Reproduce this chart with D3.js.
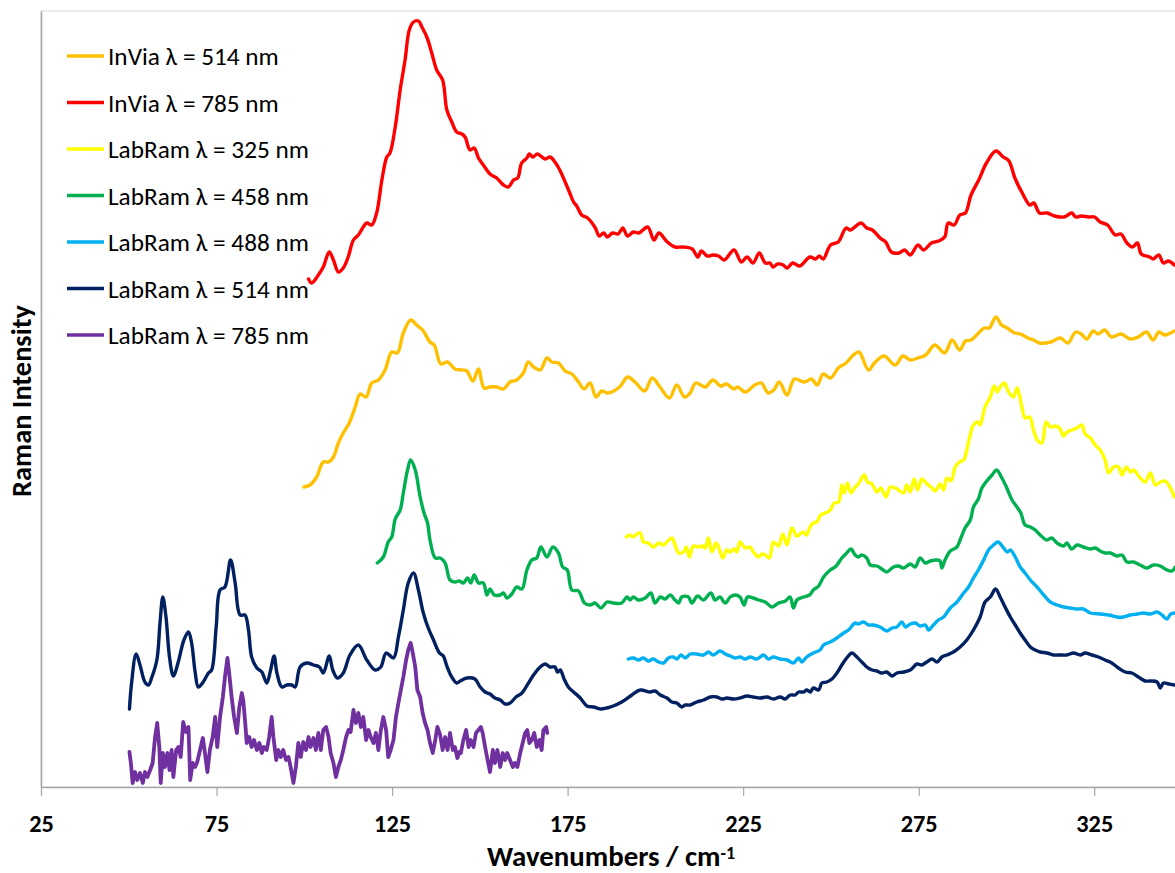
<!DOCTYPE html>
<html>
<head>
<meta charset="utf-8">
<script src="https://cdn.jsdelivr.net/npm/d3@7"></script>
<style>
  body { margin: 0; background: #ffffff; }
  svg { display: block; }
  text { font-family: Carlito, "Open Sans", Lato, sans-serif; }
</style>
</head>
<body>
<svg id="chart" width="1175" height="873"></svg>
<script>
// ---------------- DATA (wavenumber cm-1, Raman intensity a.u.) ----------------
const xTickValues = [25, 75, 125, 175, 225, 275, 325];
const xDomain = [25, 350];
const yDomain = [0, 776];

const seriesNames = [
  "InVia \u03bb = 514 nm",
  "InVia \u03bb = 785 nm",
  "LabRam \u03bb = 325 nm",
  "LabRam \u03bb = 458 nm",
  "LabRam \u03bb = 488 nm",
  "LabRam \u03bb = 514 nm",
  "LabRam \u03bb = 785 nm"
];
const seriesColors = ["#FFC000", "#FF0000", "#FFFF00", "#00B050", "#00B0F0", "#002060", "#7030A0"];

const invia514 = [[99.9,300],[101.6,302],[103.5,310],[105.4,325],[106.9,325],[108.3,330],[109.7,344],[111.1,354],[112.8,364],[114.5,380],[115.9,393],[117.6,390],[119.2,404],[121.1,407],[123.0,417],[124.9,435],[126.5,434],[128.2,454],[130.3,467],[132.0,462],[133.7,457],[135.8,445],[137.0,442],[138.9,423],[140.8,425],[142.9,418],[144.9,417],[146.3,416],[148.0,406],[149.6,418],[151.2,399],[152.9,400],[154.8,400],[156.7,398],[158.6,405],[160.5,407],[162.4,414],[163.8,425],[165.3,420],[167.2,417],[169.1,429],[170.5,425],[172.4,424],[174.3,416],[176.2,413],[178.1,405],[179.7,398],[181.4,404],[183.1,390],[184.7,396],[186.6,394],[189.8,400],[192.1,410],[194.2,405],[196.9,396],[199.1,409],[201.3,400],[204.0,389],[206.1,402],[208.3,390],[209.9,394],[211.5,404],[214.2,400],[216.4,407],[218.6,401],[220.2,403],[222.4,398],[223.4,400],[225.6,395],[228.3,402],[230.2,404],[232.1,394],[233.7,397],[235.3,405],[237.5,392],[239.6,408],[242.4,405],[244.5,408],[246.1,402],[247.8,413],[249.9,409],[252.1,419],[254.3,424],[256.4,432],[258.0,435],[260.7,417],[262.4,424],[265.1,431],[268.3,422],[270.5,431],[272.6,427],[274.8,429],[277.0,432],[279.6,442],[282.4,434],[284.5,447],[286.7,437],[288.3,446],[289.9,447],[293.7,459],[295.1,459],[297.0,470],[298.6,462],[300.2,459],[302.4,454],[304.0,453],[306.1,449],[307.8,447],[309.4,444],[312.6,445],[315.3,449],[317.5,444],[319.7,455],[321.3,453],[322.9,448],[324.7,456],[326.1,453],[328.0,457],[329.9,450],[332.6,453],[335.3,448],[337.5,450],[339.9,455],[341.8,447],[343.4,455],[345.1,452],[347.8,456]];

const invia785 = [[101.2,508],[102.1,504],[104.0,512],[105.4,520],[107.1,535],[108.3,527],[109.7,515],[111.1,519],[112.5,530],[114.0,547],[115.4,552],[117.8,564],[119.2,562],[120.6,574],[122.1,607],[123.5,630],[124.4,634],[125.9,660],[127.3,697],[128.7,727],[129.9,757],[131.1,765],[132.5,766],[133.5,760],[134.9,750],[136.3,734],[137.7,717],[139.4,707],[140.6,677],[142.0,665],[143.4,655],[144.9,653],[145.8,650],[147.2,637],[148.4,639],[149.6,629],[151.0,622],[152.9,613],[154.8,609],[156.7,602],[158.1,600],[159.6,607],[160.8,609],[161.9,624],[163.4,629],[164.1,633],[165.1,630],[166.4,633],[168.6,628],[170.0,630],[171.4,625],[172.9,616],[174.3,605],[175.5,595],[176.7,585],[177.6,581],[179.0,572],[180.7,569],[182.9,559],[184.0,551],[185.3,554],[186.3,550],[187.8,554],[189.4,553],[190.7,559],[192.1,551],[193.7,555],[195.3,554],[197.8,560],[199.6,547],[201.0,554],[203.4,545],[205.6,540],[207.8,540],[210.5,538],[212.1,530],[213.1,536],[214.8,531],[216.4,532],[218.0,531],[219.6,527],[222.4,537],[224.5,525],[226.1,530],[227.8,524],[229.6,534],[231.3,524],[232.6,524],[233.5,520],[234.8,523],[236.4,522],[237.5,519],[239.1,524],[241.1,521],[244.0,530],[245.6,528],[246.7,531],[247.8,528],[249.9,542],[252.1,545],[254.3,559],[255.5,557],[258.6,564],[260.2,559],[261.8,557],[264.0,549],[265.6,545],[267.2,535],[269.4,534],[271.0,537],[272.6,532],[274.8,542],[276.4,537],[278.6,544],[280.7,546],[282.4,550],[283.4,564],[285.1,562],[286.7,572],[288.3,574],[289.9,592],[292.1,607],[294.3,624],[297.0,636],[299.1,630],[300.7,626],[302.4,609],[304.5,594],[306.7,582],[307.8,584],[309.4,574],[311.6,574],[313.7,571],[316.4,570],[318.6,574],[319.7,570],[321.3,571],[323.4,570],[325.1,570],[326.7,565],[328.8,562],[331.0,552],[332.6,553],[334.3,544],[335.9,540],[337.3,544],[338.4,533],[340.8,530],[341.8,528],[343.4,532],[344.7,524],[346.1,526],[347.8,522]];

const labram325 = [[191.7,250],[192.8,252],[193.7,250],[194.7,253],[195.7,254],[196.6,245],[198.0,244],[199.4,240],[200.9,244],[202.3,242],[203.3,245],[204.7,249],[205.6,242],[206.6,234],[208.0,235],[208.8,240],[209.7,230],[210.8,241],[212.3,240],[213.5,241],[214.2,239],[215.1,249],[216.1,235],[217.3,244],[218.4,236],[219.2,229],[220.4,237],[221.3,235],[222.4,238],[223.2,235],[224.1,245],[225.6,239],[227.0,240],[227.9,235],[229.4,230],[230.3,233],[231.3,232],[232.5,229],[233.6,245],[235.1,241],[236.3,253],[237.5,242],[238.9,259],[240.3,251],[242.0,255],[243.1,252],[243.9,259],[245.0,264],[246.0,265],[247.1,272],[248.4,274],[249.8,277],[250.9,284],[252.2,285],[253.1,302],[253.8,294],[254.7,304],[255.7,294],[256.9,300],[257.8,303],[259.5,312],[260.4,305],[261.7,303],[263.1,295],[264.2,299],[265.7,290],[266.9,300],[268.8,298],[270.7,294],[271.6,302],[272.6,295],[273.7,308],[274.7,297],[275.9,308],[277.1,304],[278.8,299],[279.7,296],[281.1,303],[282.1,297],[283.0,309],[284.2,306],[285.4,320],[286.6,325],[287.8,327],[289.2,345],[290.6,362],[291.8,365],[292.5,362],[293.9,380],[295.4,390],[296.5,401],[297.4,395],[298.2,400],[299.4,404],[300.6,395],[302.0,390],[303.0,399],[304.4,380],[305.3,369],[306.6,370],[307.7,357],[308.8,347],[310.1,344],[311.3,365],[312.5,360],[313.9,361],[315.1,359],[316.3,351],[317.2,355],[318.6,357],[320.1,359],[321.5,362],[322.4,353],[323.9,349],[325.3,342],[326.7,337],[328.1,327],[329.1,314],[330.5,320],[331.9,320],[332.9,312],[334.1,320],[335.3,315],[336.2,317],[338.1,309],[339.5,305],[341.0,314],[342.4,302],[343.8,305],[345.2,306],[346.7,299],[347.8,290]];

const labram458 = [[120.8,224],[122.5,230],[123.9,245],[124.9,250],[125.9,268],[127.3,277],[128.2,294],[129.4,317],[130.3,327],[131.6,317],[133.0,290],[134.1,274],[135.1,264],[135.8,247],[137.3,229],[138.7,229],[140.1,224],[141.5,207],[142.9,205],[144.2,206],[145.3,204],[146.5,209],[147.4,204],[148.4,212],[149.6,204],[151.0,204],[152.0,192],[152.9,198],[154.1,192],[155.8,192],[156.7,194],[157.7,189],[159.1,193],[160.5,200],[162.0,198],[163.4,217],[164.8,227],[166.2,229],[167.4,240],[169.1,230],[170.8,240],[172.4,234],[173.6,220],[174.9,217],[176.2,197],[178.1,196],[179.8,184],[181.4,182],[182.8,184],[184.5,179],[186.2,185],[188.0,184],[190.4,184],[191.9,190],[192.8,187],[193.7,190],[195.2,187],[197.1,189],[198.7,194],[199.9,184],[201.4,190],[202.8,188],[204.2,192],[205.6,187],[206.6,184],[207.5,190],[209.4,190],[210.4,184],[212.0,191],[213.7,187],[215.8,194],[217.0,187],[218.4,190],[219.9,184],[221.3,190],[222.7,192],[224.1,190],[225.3,182],[226.2,190],[227.9,189],[229.4,187],[231.3,185],[233.2,180],[235.1,184],[237.0,186],[238.4,190],[239.3,179],[240.3,187],[242.2,190],[243.9,192],[245.0,197],[246.5,201],[247.9,210],[249.8,217],[251.5,221],[253.1,229],[254.5,234],[255.7,238],[256.9,232],[257.8,230],[258.8,232],[260.2,229],[261.2,222],[263.1,221],[264.5,218],[265.9,215],[267.8,220],[269.2,221],[270.7,219],[272.6,223],[274.0,220],[275.4,229],[276.9,224],[278.3,226],[280.2,227],[281.1,226],[281.6,219],[282.5,227],[284.0,236],[285.9,240],[286.8,247],[288.2,259],[289.7,267],[290.6,280],[292.0,288],[293.0,299],[294.4,306],[295.9,312],[297.2,317],[298.7,309],[300.1,299],[301.6,287],[303.0,280],[304.1,274],[305.3,262],[306.8,260],[308.2,257],[309.6,252],[311.5,247],[312.9,249],[314.4,244],[316.3,241],[317.2,244],[318.6,238],[320.1,242],[321.9,240],[323.9,238],[325.3,239],[326.7,236],[328.1,234],[329.6,234],[331.5,231],[332.9,232],[334.3,225],[336.2,225],[338.1,222],[340.0,219],[341.9,222],[343.8,221],[345.7,217],[347.1,216],[348.1,220]];

const labram488 = [[192.3,128],[193.7,129],[195.2,127],[196.6,129],[198.0,126],[199.4,128],[200.9,125],[202.3,124],[203.7,129],[205.1,130],[206.1,128],[207.3,132],[208.5,129],[209.9,133],[211.8,133],[213.7,132],[215.1,135],[216.5,132],[218.4,136],[219.9,133],[221.3,131],[222.7,129],[224.1,130],[225.6,128],[227.0,130],[228.9,128],[230.8,132],[232.2,128],[233.6,130],[235.5,128],[237.5,127],[239.3,124],[240.8,129],[241.7,125],[243.1,130],[245.0,134],[246.9,137],[247.9,142],[249.8,145],[251.7,149],[253.6,154],[255.0,157],[256.9,164],[257.8,163],[259.3,165],[260.7,162],[262.1,162],[264.0,160],[265.9,156],[267.4,159],[268.8,160],[270.2,165],[271.2,160],[272.6,163],[274.0,164],[275.4,161],[276.9,162],[277.8,157],[279.2,162],[280.6,167],[282.1,170],[284.0,179],[285.9,185],[287.8,194],[289.2,200],[290.6,209],[292.0,217],[293.5,227],[294.9,237],[296.3,242],[297.6,245],[299.2,239],[300.3,235],[301.1,237],[302.5,230],[303.9,220],[305.3,214],[306.8,207],[308.7,200],[310.6,192],[312.5,185],[314.4,182],[316.3,180],[318.2,179],[320.1,178],[321.9,178],[323.9,174],[326.7,173],[329.1,172],[331.5,170],[333.3,170],[335.3,172],[337.2,173],[339.0,174],[341.0,173],[342.9,175],[344.3,172],[345.7,168],[346.8,173],[348.1,174]];

const labram514 = [[50.2,78],[50.8,104],[52.1,133],[53.2,122],[54.6,105],[55.6,102],[56.5,109],[58.0,127],[58.9,164],[59.7,190],[60.6,170],[61.6,130],[62.7,111],[64.1,125],[65.7,147],[67.0,155],[67.9,144],[68.9,115],[69.8,100],[71.2,105],[72.7,114],[73.6,117],[74.9,160],[76.0,197],[77.4,200],[79.0,227],[80.3,204],[81.7,172],[83.1,172],[84.1,157],[85.0,130],[86.5,119],[87.9,115],[89.3,104],[90.4,117],[91.4,131],[92.2,114],[93.6,100],[95.0,102],[96.4,102],[97.4,100],[98.8,120],[100.7,124],[102.6,122],[104.3,120],[105.4,114],[107.1,131],[108.1,117],[109.4,109],[111.1,114],[113.0,132],[115.4,142],[117.8,127],[120.2,117],[121.8,120],[123.3,134],[125.4,129],[126.8,150],[128.2,177],[129.6,204],[131.1,214],[132.5,197],[133.9,174],[135.3,159],[136.8,147],[138.5,134],[139.6,131],[140.6,121],[142.0,110],[143.4,104],[144.4,106],[146.3,109],[148.6,108],[150.1,100],[151.5,95],[152.9,93],[154.3,89],[155.8,87],[157.2,83],[158.6,84],[160.3,90],[162.0,94],[163.5,102],[165.3,112],[167.2,120],[168.6,123],[170.0,120],[171.4,120],[172.1,115],[172.9,117],[174.0,108],[175.2,100],[176.7,95],[178.6,89],[180.5,81],[182.4,80],[184.3,78],[186.2,79],[188.0,81],[190.4,85],[193.3,92],[195.7,97],[198.5,95],[199.9,96],[201.4,92],[203.3,89],[204.7,85],[206.1,84],[207.5,80],[208.5,82],[209.9,82],[211.8,85],[213.7,87],[215.6,90],[217.5,90],[218.9,88],[220.4,89],[222.2,88],[224.1,89],[226.1,91],[227.9,90],[229.8,89],[231.8,90],[233.6,88],[235.5,90],[237.0,88],[238.4,92],[239.8,92],[240.8,95],[242.2,95],[243.1,97],[244.1,95],[245.0,99],[246.5,97],[247.4,104],[248.8,105],[250.3,108],[251.7,114],[253.1,122],[254.5,129],[256.0,134],[257.4,130],[258.8,125],[260.2,120],[261.7,117],[263.1,116],[264.5,114],[265.9,115],[267.4,111],[268.8,114],[270.7,115],[272.6,117],[274.5,123],[275.9,122],[277.3,125],[278.8,128],[280.2,125],[281.6,130],[283.0,132],[284.9,135],[286.8,140],[288.7,147],[290.6,157],[292.5,170],[293.9,185],[295.4,190],[296.9,198],[298.2,190],[299.6,180],[301.1,170],[302.5,162],[303.9,154],[305.3,147],[306.8,140],[308.2,137],[309.6,135],[311.5,134],[313.4,132],[315.3,132],[317.2,132],[319.1,134],[321.0,132],[322.4,134],[324.3,132],[326.2,130],[328.1,127],[330.0,124],[331.9,119],[333.8,115],[335.7,114],[337.6,110],[339.5,106],[341.0,106],[342.9,105],[343.8,99],[344.7,104],[346.2,103],[347.8,102]];

const labram785 = [[50.2,35],[50.6,24],[51.1,4],[51.8,15],[52.4,7],[53.2,14],[54.0,4],[54.6,15],[55.3,10],[56.1,17],[56.8,24],[57.5,50],[58.1,64],[58.7,40],[59.1,4],[59.7,34],[60.3,20],[61.0,34],[61.6,17],[62.2,37],[62.7,10],[63.5,37],[64.1,40],[64.8,30],[65.5,65],[66.3,55],[67.0,60],[67.5,7],[68.2,24],[68.9,20],[69.5,25],[70.3,37],[71.1,49],[71.7,34],[72.4,15],[73.1,37],[73.9,50],[74.6,70],[75.2,40],[76.0,70],[76.8,90],[77.4,110],[78.1,129],[78.6,114],[79.3,90],[80.0,70],[80.8,54],[81.5,80],[82.2,94],[82.6,87],[83.1,67],[83.6,44],[84.3,50],[85.0,40],[85.7,47],[86.5,37],[87.2,44],[87.9,34],[88.5,40],[89.3,37],[90.0,50],[90.7,70],[91.2,50],[92.0,27],[92.6,37],[93.3,30],[94.0,37],[94.8,27],[95.5,30],[96.1,20],[96.9,4],[97.6,20],[98.3,44],[99.0,30],[99.7,45],[100.5,37],[101.2,50],[101.8,40],[102.6,49],[103.3,37],[104.0,54],[104.7,37],[105.4,57],[106.2,60],[106.9,50],[107.5,34],[108.3,24],[109.0,10],[109.7,20],[110.4,27],[111.1,37],[111.9,50],[112.6,57],[113.2,55],[114.0,77],[114.7,64],[115.4,74],[116.1,60],[116.8,70],[117.6,47],[118.3,57],[118.9,50],[119.7,44],[120.4,54],[121.1,37],[121.8,57],[122.5,70],[123.3,57],[123.9,30],[124.6,37],[125.4,47],[126.1,70],[126.8,84],[127.5,97],[128.2,110],[129.0,127],[129.6,137],[130.3,144],[130.9,134],[131.6,120],[132.2,97],[133.0,90],[133.7,74],[134.4,64],[135.1,57],[135.8,44],[136.6,34],[137.3,47],[137.9,60],[138.7,52],[139.4,37],[140.1,50],[140.8,37],[141.5,54],[142.3,37],[142.9,40],[143.6,29],[144.2,35],[144.6,34],[145.3,47],[146.1,57],[146.8,40],[147.4,47],[148.2,40],[148.9,54],[149.6,57],[150.3,60],[150.8,54],[151.5,40],[152.2,27],[152.9,15],[153.7,37],[154.3,24],[155.0,37],[155.8,20],[156.5,34],[157.2,27],[157.8,34],[158.6,27],[159.4,20],[160.0,24],[160.7,20],[161.5,34],[162.2,44],[162.9,54],[163.5,57],[164.1,44],[164.8,47],[165.5,54],[166.2,40],[167.0,47],[167.6,37],[168.1,57],[168.9,60],[169.2,54]];

const seriesData = [invia514, invia785, labram325, labram458, labram488, labram514, labram785];

// ---------------- LAYOUT ----------------
const width = 1175, height = 873;
const plot = { left: 41, top: 11, right: 1182, bottom: 787 };
const FONT = "Carlito, 'Open Sans', Lato, sans-serif";

const svg = d3.select("#chart");

const x = d3.scaleLinear().domain(xDomain).range([plot.left, plot.right]);
const y = d3.scaleLinear().domain(yDomain).range([plot.bottom, plot.top]);

// scale a text's font so that its rendered width equals the target width
function fitWidth(sel, baseSize, targetWidth) {
  sel.style("font-size", baseSize + "px");
  const w = sel.node().getComputedTextLength();
  const size = w > 0 ? baseSize * targetWidth / w : baseSize;
  sel.style("font-size", size.toFixed(2) + "px");
  return size;
}

svg.append("defs").append("clipPath").attr("id", "plotClip")
  .append("rect")
  .attr("x", plot.left).attr("y", plot.top - 4)
  .attr("width", plot.right - plot.left).attr("height", plot.bottom - plot.top + 4);

// plot area border (light)
svg.append("rect")
  .attr("x", plot.left).attr("y", plot.top)
  .attr("width", plot.right - plot.left).attr("height", plot.bottom - plot.top)
  .attr("fill", "none").attr("stroke", "#d9d9d9").attr("stroke-width", 1);

// x axis
const xAxis = d3.axisBottom(x).tickValues(xTickValues).tickSize(9).tickSizeOuter(0).tickPadding(19);
const gx = svg.append("g").attr("transform", `translate(0,${plot.bottom})`).call(xAxis);
gx.select(".domain").attr("stroke", "#a6a6a6").attr("stroke-width", 1.5);
gx.selectAll(".tick line").attr("stroke", "#a6a6a6").attr("stroke-width", 1.2);
const tickTexts = gx.selectAll(".tick text")
  .attr("fill", "#000").style("font-weight", "bold").style("font-family", FONT);
// size from the "125" label (about 37 px wide in the reference)
const refTick = tickTexts.filter(d => d === 125);
const tickSize = fitWidth(refTick, 20, 37);
tickTexts.style("font-size", tickSize.toFixed(2) + "px");

// y axis (line only)
const yAxis = d3.axisLeft(y).tickValues([]).tickSizeOuter(0);
const gy = svg.append("g").attr("transform", `translate(${plot.left},0)`).call(yAxis);
gy.select(".domain").attr("stroke", "#a6a6a6").attr("stroke-width", 1.5);

// series lines
const lineSmooth = d3.line().x(d => x(d[0])).y(d => y(d[1])).curve(d3.curveCatmullRom.alpha(0.5));
const lineRaw = d3.line().x(d => x(d[0])).y(d => y(d[1])).curve(d3.curveLinear);

const gLines = svg.append("g").attr("clip-path", "url(#plotClip)");
seriesData.forEach((data, i) => {
  gLines.append("path")
    .datum(data)
    .attr("fill", "none")
    .attr("stroke", seriesColors[i])
    .attr("stroke-width", i === 6 ? 3.8 : 3.4)
    .attr("stroke-linejoin", "round")
    .attr("stroke-linecap", "round")
    .attr("d", i === 6 ? lineRaw : lineSmooth);
});

// legend
const legend = svg.append("g").attr("transform", "translate(67,56)");
const legendTexts = [];
seriesNames.forEach((name, i) => {
  const row = legend.append("g").attr("transform", `translate(0,${i * 46.5})`);
  row.append("line").attr("x1", 0).attr("x2", 37).attr("y1", 0).attr("y2", 0)
    .attr("stroke", seriesColors[i]).attr("stroke-width", 3.4);
  legendTexts.push(row.append("text").attr("x", 41).attr("y", 0).attr("dy", "0.36em")
    .style("font-family", FONT).attr("fill", "#000").text(name));
});
// "LabRam λ = 325 nm" spans about 201 px in the reference
const legendSize = fitWidth(legendTexts[2], 20, 201);
legendTexts.forEach(t => t.style("font-size", legendSize.toFixed(2) + "px"));

// axis titles
const xt = svg.append("text")
  .attr("x", 611).attr("y", 866)
  .attr("text-anchor", "middle")
  .style("font-weight", "bold").style("font-family", FONT).attr("fill", "#000");
xt.append("tspan").text("Wavenumbers / cm");
xt.append("tspan").attr("dy", "-0.38em").style("font-size", "0.62em").text("-1");
fitWidth(xt, 24, 248);

const yt = svg.append("text")
  .attr("transform", "translate(31,401) rotate(-90)")
  .attr("text-anchor", "middle")
  .style("font-weight", "bold").style("font-family", FONT).attr("fill", "#000")
  .text("Raman Intensity");
fitWidth(yt, 24, 192);
</script>
</body>
</html>
